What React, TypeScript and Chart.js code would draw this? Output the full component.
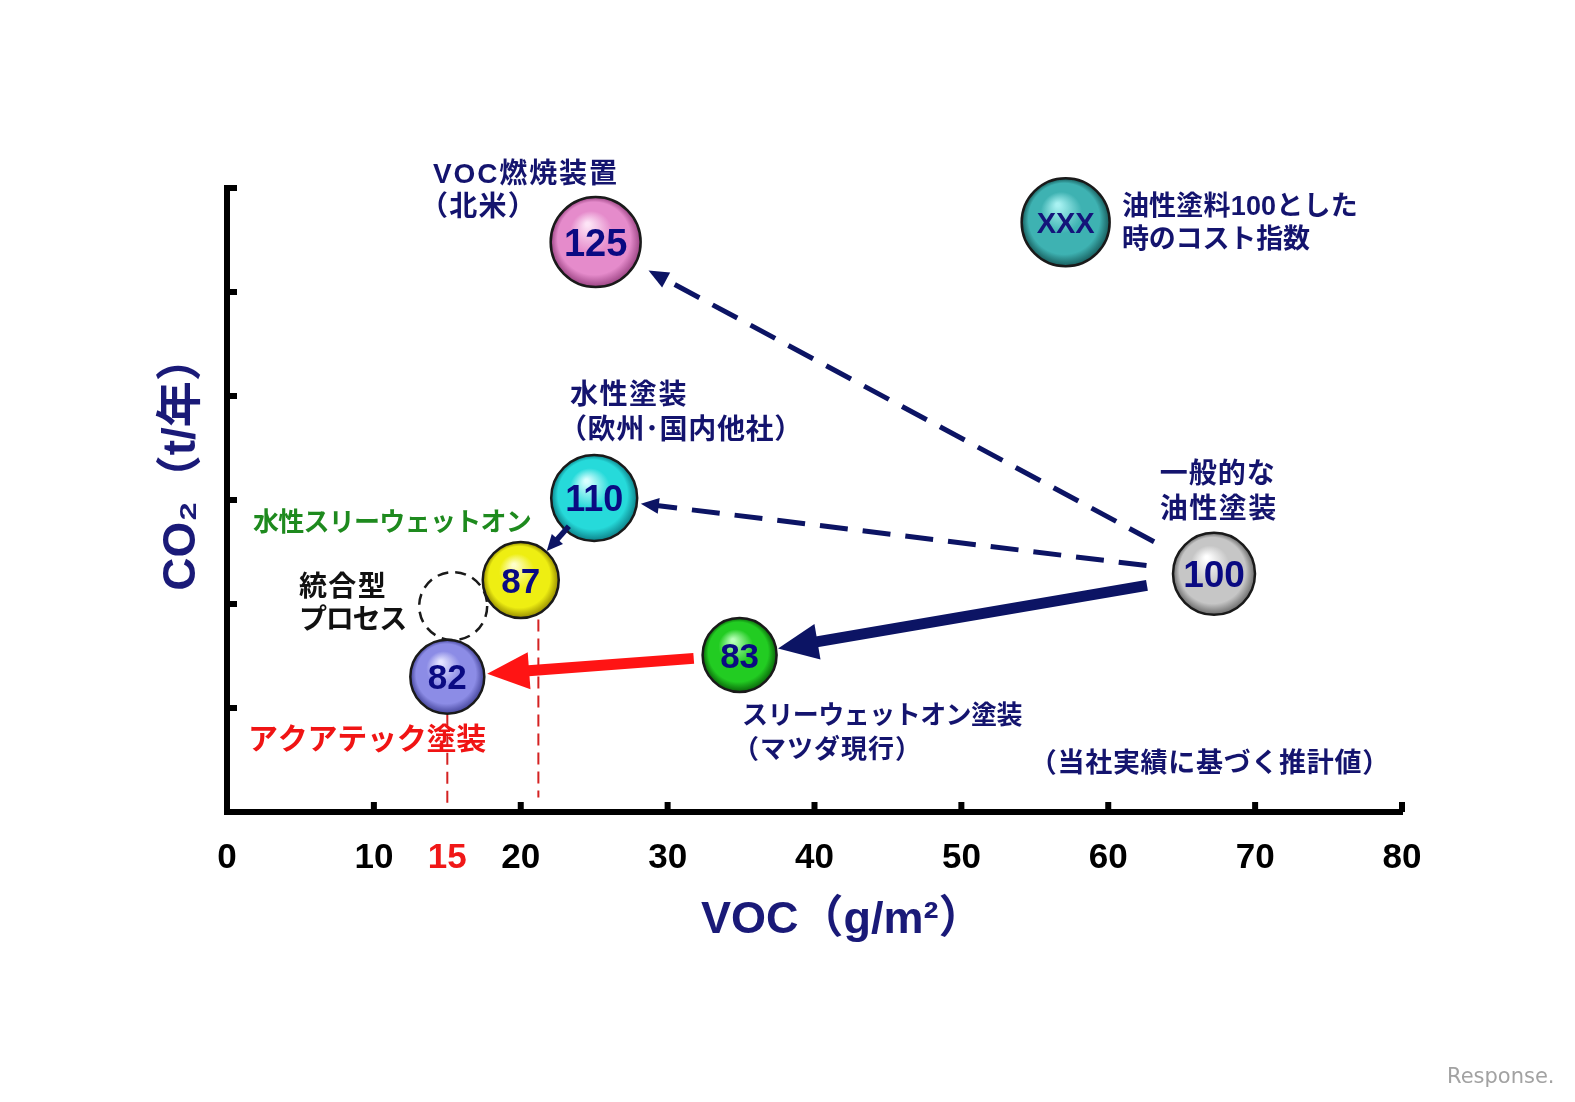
import React, { useEffect, useRef } from 'react';
import { Chart, registerables } from 'chart.js';

Chart.register(...registerables);

// ---------- data ----------
const categories = [
  '一般的な油性塗装',
  'スリーウェットオン塗装（マツダ現行）',
  'VOC燃焼装置（北米）',
  '水性塗装（欧州･国内他社）',
  '水性スリーウェットオン',
  'アクアテック塗装',
];
const vocValues = [67.2, 34.9, 25.1, 25.0, 20.0, 15.0];
const co2Values = [2.29, 1.51, 5.48, 3.02, 2.23, 1.3];
const costIndex = ['100', '83', '125', '110', '87', '82'];

const integratedLabel = ['統合型プロセス'];
const integratedVoc = [15.4];
const integratedCo2 = [1.98];

const legendVoc = [57.1];
const legendCo2 = [5.67];
const legendText = ['XXX'];

const xTickValues = [0, 10, 15, 20, 30, 40, 50, 60, 70, 80];
const xTickMarks = [10, 20, 30, 40, 50, 60, 70, 80];
const yTickMarks = [1, 2, 3, 4, 5, 6];
const highlightTick = 15;

const refLineX = [15, 21.2];
const refLineFrom = [0.07, 0.14];
const refLineTo = [1.3, 1.85];

const arrowFrom = [0, 0, 0, 1, 3];
const arrowTo = [2, 3, 1, 5, 4];

// ---------- styles ----------
const NAVY = '#14146e';
const ARROW_NAVY = '#0c1464';
const RED = '#f01414';
const GREEN = '#1e8a1e';
const FONT = '"Liberation Sans", "Noto Sans CJK JP", sans-serif';
const TEXT_DY = 3;

const bubbleRadius = [41, 37, 45, 43, 38, 37];
const legendRadius = 44;
const integratedRadius = 34;
const palettes: string[][] = [
  ['#ffffff', '#c6c6c6', '#6a6a6a'],
  ['#b8ffb8', '#22cc22', '#0a640a'],
  ['#fde4f6', '#e58bcb', '#9c4484'],
  ['#d8ffff', '#26dada', '#0c8088'],
  ['#ffffc8', '#eeee12', '#968c00'],
  ['#e4e4ff', '#8c8ce6', '#44449a'],
];
const legendPalette = ['#a8f2f2', '#3eb2b2', '#175c5c'];
const numberFontSize = [37, 35, 38, 36, 35, 35];

const arrowStyles = [
  { dashed: true, width: 5, headLen: 20, headWid: 17, color: ARROW_NAVY, startGap: 68, endGap: 60 },
  { dashed: true, width: 5, headLen: 18, headWid: 16, color: ARROW_NAVY, startGap: 68, endGap: 47 },
  { dashed: false, width: 11, headLen: 40, headWid: 36, color: ARROW_NAVY, startGap: 68, endGap: 39 },
  { dashed: false, width: 11, headLen: 42, headWid: 37, color: '#ff1414', startGap: 46, endGap: 40 },
  { dashed: false, width: 5.5, headLen: 16, headWid: 15, color: ARROW_NAVY, startGap: 38, endGap: 39 },
];

type Lbl = { t: string; x: number; y: number; w: number; fs: number; c: string };
const textLabels: Lbl[] = [
  { t: 'VOC燃焼装置', x: 14.02, y: 6.154, w: 186, fs: 28, c: NAVY },
  { t: '（北米）', x: 13.14, y: 5.837, w: 117, fs: 28, c: NAVY },
  { t: '水性塗装', x: 23.35, y: 4.029, w: 118, fs: 28, c: NAVY },
  { t: '（欧州･国内他社）', x: 22.6, y: 3.692, w: 244, fs: 28, c: NAVY },
  { t: '水性スリーウェットオン', x: 1.77, y: 2.798, w: 278, fs: 26, c: GREEN },
  { t: '統合型', x: 4.9, y: 2.183, w: 88, fs: 28, c: '#111111' },
  { t: 'プロセス', x: 4.9, y: 1.865, w: 107, fs: 28, c: '#111111' },
  { t: 'アクアテック塗装', x: 1.43, y: 0.712, w: 238, fs: 30, c: RED },
  { t: '一般的な', x: 63.51, y: 3.269, w: 116, fs: 28, c: NAVY },
  { t: '油性塗装', x: 63.51, y: 2.933, w: 118, fs: 28, c: NAVY },
  { t: 'スリーウェットオン塗装', x: 35.06, y: 0.942, w: 280, fs: 26, c: NAVY },
  { t: '（マツダ現行）', x: 34.45, y: 0.615, w: 189, fs: 26, c: NAVY },
  { t: '（当社実績に基づく推計値）', x: 54.66, y: 0.481, w: 360, fs: 27, c: NAVY },
  { t: '油性塗料100とした', x: 60.93, y: 5.837, w: 236, fs: 27, c: NAVY },
  { t: '時のコスト指数', x: 60.93, y: 5.519, w: 188, fs: 27, c: NAVY },
];

function fitText(ctx: CanvasRenderingContext2D, text: string, x: number, y: number, w: number, fs: number, color: string) {
  ctx.font = `bold ${fs}px ${FONT}`;
  ctx.fillStyle = color;
  ctx.textAlign = 'left';
  ctx.textBaseline = 'middle';
  (ctx as any).letterSpacing = '0px';
  const w0 = ctx.measureText(text).width;
  const n = Array.from(text).length;
  let ls = (w - w0) / n;
  ls = Math.max(-4, Math.min(6, ls));
  (ctx as any).letterSpacing = `${ls}px`;
  ctx.fillText(text, x, y + TEXT_DY);
  (ctx as any).letterSpacing = '0px';
}

function sphere(c: any, pal: string[], r: number) {
  const chart = c.chart;
  const raw = c.raw;
  if (!raw || !chart.scales || !chart.scales.x || !chart.scales.y) return pal[1];
  const px = chart.scales.x.getPixelForValue(raw.x);
  const py = chart.scales.y.getPixelForValue(raw.y);
  if (!Number.isFinite(px) || !Number.isFinite(py) || !Number.isFinite(r)) return pal[1];
  const g = chart.ctx.createRadialGradient(px - 0.18 * r, py - 0.4 * r, r * 0.04, px, py, r);
  g.addColorStop(0, pal[0]);
  g.addColorStop(0.45, pal[1]);
  g.addColorStop(0.8, pal[1]);
  g.addColorStop(1, pal[2]);
  return g;
}

function drawArrow(ctx: CanvasRenderingContext2D, x1: number, y1: number, x2: number, y2: number, s: any) {
  const dx = x2 - x1;
  const dy = y2 - y1;
  const len = Math.hypot(dx, dy);
  if (!len) return;
  const ux = dx / len;
  const uy = dy / len;
  const sx = x1 + ux * s.startGap;
  const sy = y1 + uy * s.startGap;
  const tx = x2 - ux * s.endGap;
  const ty = y2 - uy * s.endGap;
  const bx = tx - ux * s.headLen;
  const by = ty - uy * s.headLen;
  ctx.save();
  ctx.strokeStyle = s.color;
  ctx.fillStyle = s.color;
  ctx.lineWidth = s.width;
  ctx.lineCap = 'butt';
  ctx.setLineDash(s.dashed ? [28, 15] : []);
  ctx.beginPath();
  ctx.moveTo(sx, sy);
  ctx.lineTo(bx + ux * 4, by + uy * 4);
  ctx.stroke();
  ctx.setLineDash([]);
  const nx = -uy;
  const ny = ux;
  ctx.beginPath();
  ctx.moveTo(tx, ty);
  ctx.lineTo(bx + nx * s.headWid / 2, by + ny * s.headWid / 2);
  ctx.lineTo(bx - nx * s.headWid / 2, by - ny * s.headWid / 2);
  ctx.closePath();
  ctx.fill();
  ctx.restore();
}

const decorPlugin = {
  id: 'decor',
  beforeDatasetsDraw(chart: any) {
    const ctx: CanvasRenderingContext2D = chart.ctx;
    const xs = chart.scales.x;
    const ys = chart.scales.y;
    ctx.save();
    ctx.strokeStyle = '#d42222';
    ctx.lineWidth = 2;
    ctx.setLineDash([12, 7]);
    refLineX.forEach((v, i) => {
      const px = xs.getPixelForValue(v);
      ctx.beginPath();
      ctx.moveTo(px, ys.getPixelForValue(refLineTo[i]));
      ctx.lineTo(px, ys.getPixelForValue(refLineFrom[i]));
      ctx.stroke();
    });
    const meta = chart.getDatasetMeta(2);
    meta.data.forEach((el: any) => {
      ctx.strokeStyle = '#1a1a1a';
      ctx.lineWidth = 2.5;
      ctx.setLineDash([11, 7]);
      ctx.beginPath();
      ctx.arc(el.x, el.y, integratedRadius, 0, Math.PI * 2);
      ctx.stroke();
    });
    ctx.restore();
  },
  afterDatasetsDraw(chart: any) {
    const ctx: CanvasRenderingContext2D = chart.ctx;
    const meta = chart.getDatasetMeta(0);
    ctx.save();
    arrowFrom.forEach((f, i) => {
      const a = meta.data[f];
      const b = meta.data[arrowTo[i]];
      drawArrow(ctx, a.x, a.y, b.x, b.y, arrowStyles[i]);
    });
    ctx.textAlign = 'center';
    ctx.textBaseline = 'middle';
    ctx.fillStyle = '#0a0a82';
    meta.data.forEach((el: any, i: number) => {
      ctx.font = `bold ${numberFontSize[i]}px ${FONT}`;
      ctx.fillText(costIndex[i], el.x, el.y + 3);
    });
    const lmeta = chart.getDatasetMeta(1);
    lmeta.data.forEach((el: any, i: number) => {
      ctx.font = `bold 29px ${FONT}`;
      ctx.fillStyle = '#14147a';
      ctx.fillText(legendText[i], el.x, el.y + 3);
    });
    ctx.restore();
  },
  afterDraw(chart: any) {
    const ctx: CanvasRenderingContext2D = chart.ctx;
    const xs = chart.scales.x;
    const ys = chart.scales.y;
    const area = chart.chartArea;
    ctx.save();
    ctx.fillStyle = '#000';
    xTickMarks.forEach((v) => {
      const px = xs.getPixelForValue(v);
      ctx.fillRect(px - 3, area.bottom - 10, 6, 10);
    });
    yTickMarks.forEach((v) => {
      const py = ys.getPixelForValue(v);
      ctx.fillRect(area.left, py - 3, 10, 6);
    });
    textLabels.forEach((l) => {
      fitText(ctx, l.t, xs.getPixelForValue(l.x), ys.getPixelForValue(l.y), l.w, l.fs, l.c);
    });
    ctx.fillStyle = '#1a1a78';
    ctx.textBaseline = 'middle';
    ctx.font = `bold 45px ${FONT}`;
    ctx.textAlign = 'left';
    ctx.fillText('VOC（g/m²）', area.left + 474, area.bottom + 109);
    ctx.save();
    ctx.translate(area.left - 45, (area.top + area.bottom) / 2 - 37);
    ctx.rotate(-Math.PI / 2);
    ctx.textAlign = 'center';
    ctx.font = `bold 46px ${FONT}`;
    ctx.fillText('CO₂（t/年）', 0, 0);
    ctx.restore();
    ctx.fillStyle = '#a2a2a2';
    ctx.font = `21px "DejaVu Sans", sans-serif`;
    ctx.textAlign = 'left';
    ctx.fillText('Response.', 1447, 1078);
    ctx.restore();
  },
};

export default function App() {
  const ref = useRef<HTMLCanvasElement | null>(null);
  useEffect(() => {
    if (!ref.current) return;
    const chart = new Chart(ref.current, {
      type: 'bubble',
      data: {
        labels: categories,
        datasets: [
          {
            label: 'コスト指数',
            data: vocValues.map((v, i) => ({ x: v, y: co2Values[i] })),
            backgroundColor: (c: any) => sphere(c, palettes[c.dataIndex] || palettes[0], bubbleRadius[c.dataIndex] || 40),
            borderColor: '#1a1a1a',
            borderWidth: 2.5,
            radius: (c: any) => bubbleRadius[c.dataIndex] || 40,
            clip: false,
          } as any,
          {
            label: '油性塗料100とした時のコスト指数',
            data: legendVoc.map((v, i) => ({ x: v, y: legendCo2[i] })),
            backgroundColor: (c: any) => sphere(c, legendPalette, legendRadius),
            borderColor: '#1a1a1a',
            borderWidth: 2.5,
            radius: legendRadius,
            clip: false,
          } as any,
          {
            label: integratedLabel[0],
            data: integratedVoc.map((v, i) => ({ x: v, y: integratedCo2[i] })),
            backgroundColor: 'rgba(0,0,0,0)',
            borderColor: 'rgba(0,0,0,0)',
            borderWidth: 0,
            radius: integratedRadius,
            clip: false,
          } as any,
        ],
      },
      options: {
        animation: false,
        responsive: false,
        events: [],
        layout: { padding: { top: 188, right: 173, left: 0, bottom: 0 } },
        plugins: {
          legend: { display: false },
          tooltip: { enabled: false },
        },
        scales: {
          x: {
            type: 'linear',
            min: 0,
            max: 80,
            afterBuildTicks: (scale: any) => {
              scale.ticks = xTickValues.map((v) => ({ value: v }));
            },
            afterFit: (scale: any) => {
              scale.height = 290;
            },
            grid: { display: false, drawTicks: false },
            border: { display: true, width: 6, color: '#000' },
            ticks: {
              autoSkip: false,
              maxRotation: 0,
              padding: 25,
              font: { family: 'Liberation Sans', size: 35, weight: 'bold' },
              color: (c: any) => (c.tick && c.tick.value === highlightTick ? '#f01818' : '#000'),
              callback: (v: any) => String(v),
            },
          },
          y: {
            type: 'linear',
            min: 0,
            max: 6,
            afterFit: (scale: any) => {
              scale.width = 227;
            },
            grid: { display: false, drawTicks: false },
            border: { display: true, width: 6, color: '#000' },
            ticks: { display: false },
          },
        },
      } as any,
      plugins: [decorPlugin],
    });
    return () => chart.destroy();
  }, []);
  return (
    <div style={{ position: 'absolute', left: 0, top: 0, width: 1575, height: 1102, background: '#fff' }}>
      <canvas ref={ref} width={1575} height={1102} style={{ display: 'block' }} />
    </div>
  );
}
